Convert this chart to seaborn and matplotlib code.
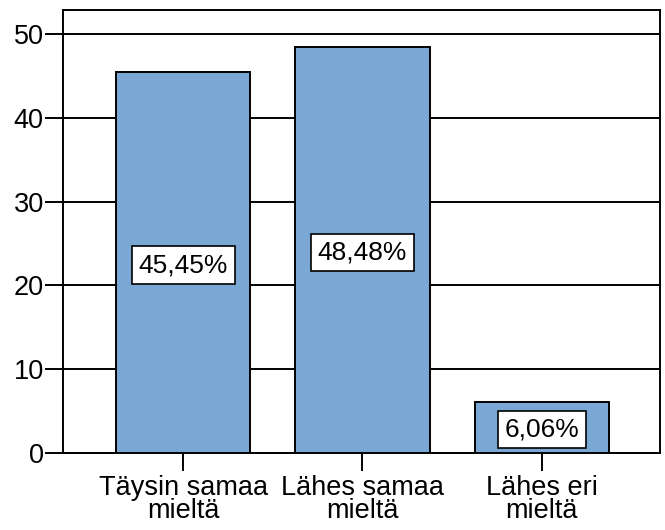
import matplotlib
matplotlib.use("Agg")
import matplotlib.pyplot as plt
import seaborn as sns
import pandas as pd

categories = ["Täysin samaa\nmieltä", "Lähes samaa\nmieltä", "Lähes eri\nmieltä"]
percent = [45.45, 48.48, 6.06]
labels = ["45,45%", "48,48%", "6,06%"]
yticks = [0, 10, 20, 30, 40, 50]

sns.set_theme(style="white")
plt.rcParams["font.family"] = ["Liberation Sans", "DejaVu Sans"]
plt.rcParams["text.color"] = "black"

df = pd.DataFrame({"category": categories, "percent": percent})

fig = plt.figure(figsize=(6.65, 5.30), dpi=100)
ax = fig.add_axes([0.095, 0.146, 0.8975, 0.835])

sns.barplot(data=df, x="category", y="percent", color="#7BA7D4", saturation=1,
            width=0.75, edgecolor="black", linewidth=1.4, ax=ax, zorder=3)

for i, (v, lab) in enumerate(zip(percent, labels)):
    ax.text(i, v / 2 - 0.3, lab, ha="center", va="center", fontsize=19, color="black",
            zorder=5,
            bbox=dict(boxstyle="square,pad=0.25", facecolor="white",
                      edgecolor="black", linewidth=1.2))

ax.set_xlim(-0.67, 2.66)
ax.set_ylim(0, 52.9)
ax.set_yticks(yticks)
ax.yaxis.grid(True, color="black", linewidth=1.4, zorder=0)
ax.set_axisbelow(True)
ax.set_xlabel("")
ax.set_ylabel("")
for s in ax.spines.values():
    s.set_visible(True)
    s.set_color("black")
    s.set_linewidth(1.4)
ax.tick_params(axis="both", which="both", direction="out", length=13, width=1.4,
               color="black", labelsize=19.5, pad=1, labelcolor="black",
               bottom=True, left=True)
ax.tick_params(axis="x", pad=3)
for t in ax.get_xticklabels():
    t.set_linespacing(0.85)

fig.savefig("out.png", dpi=100)
